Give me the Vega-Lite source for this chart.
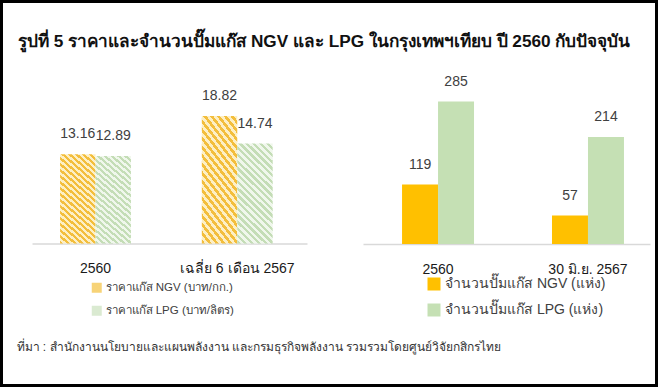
{
  "$schema": "https://vega.github.io/schema/vega-lite/v6.json",
  "width": 658,
  "height": 387,
  "autosize": "none",
  "padding": 0,
  "background": "white",
  "title": {
    "text": "รูปที่ 5 ราคาและจำนวนปั๊มแก๊ส NGV และ LPG ในกรุงเทพฯเทียบ ปี 2560 กับปัจจุบัน",
    "anchor": "start",
    "frame": "group",
    "offset": -50,
    "dx": 18,
    "fontSize": 17.2,
    "fontWeight": "bold",
    "color": "#111111"
  },
  "config": {
    "view": {"stroke": "#000000", "strokeWidth": 6},
    "font": "Liberation Sans",
    "axis": {"grid": false, "ticks": false}
  },
  "datasets": {
    "price": [
      {"period": "2560", "series": "ราคาแก๊ส NGV (บาท/กก.)", "value": 13.16},
      {"period": "2560", "series": "ราคาแก๊ส LPG (บาท/ลิตร)", "value": 12.89},
      {"period": "เฉลี่ย 6 เดือน 2567", "series": "ราคาแก๊ส NGV (บาท/กก.)", "value": 18.82},
      {"period": "เฉลี่ย 6 เดือน 2567", "series": "ราคาแก๊ส LPG (บาท/ลิตร)", "value": 14.74}
    ],
    "pumps": [
      {"period": "2560", "series": "จำนวนปั๊มแก๊ส NGV (แห่ง)", "value": 119},
      {"period": "2560", "series": "จำนวนปั๊มแก๊ส LPG (แห่ง)", "value": 285},
      {"period": "30 มิ.ย. 2567", "series": "จำนวนปั๊มแก๊ส NGV (แห่ง)", "value": 57},
      {"period": "30 มิ.ย. 2567", "series": "จำนวนปั๊มแก๊ส LPG (แห่ง)", "value": 214}
    ]
  },
  "layer": [
    {
      "data": {"name": "price"},
      "encoding": {
        "x": {
          "field": "period", "type": "nominal", "sort": null,
          "scale": {"range": [32, 307], "paddingInner": 0.5, "paddingOuter": 0.22, "align": 0.45},
          "axis": {
            "orient": "bottom", "offset": -143.5, "labelAngle": 0, "labelFontSize": 14,
            "labelColor": "#1a1a1a", "labelPadding": 18, "domainColor": "#d9d9d9", "domainWidth": 1.5,
            "ticks": false,
            "title": "ที่มา : สำนักงานนโยบายและแผนพลังงาน และกรมธุรกิจพลังงาน รวมรวมโดยศูนย์วิจัยกสิกรไทย",
            "titleX": 16, "titleY": 103, "titleAlign": "left", "titleBaseline": "middle",
            "titleFontSize": 12, "titleFontWeight": "normal", "titleColor": "#333333"
          }
        },
        "xOffset": {"field": "series", "type": "nominal", "sort": null},
        "y": {
          "field": "value", "type": "quantitative",
          "scale": {"domain": [0, 20], "range": [243.5, 107.9], "nice": false},
          "axis": null
        }
      },
      "layer": [
        {
          "mark": {"type": "bar", "opacity": 0},
          "encoding": {
            "color": {
              "field": "series", "type": "nominal", "sort": null,
              "scale": {
                "domain": ["ราคาแก๊ส NGV (บาท/กก.)", "ราคาแก๊ส LPG (บาท/ลิตร)"],
                "range": ["#F7D377", "#DAEAD1"]
              },
              "legend": {
                "orient": "none", "legendX": 91, "legendY": 282, "title": null, "direction": "vertical",
                "symbolType": "square", "symbolSize": 100, "symbolStrokeWidth": 0, "symbolOpacity": 1,
                "labelFontSize": 11.5, "labelColor": "#404040", "rowPadding": 10, "labelOffset": 3, "padding": 0,
                "labelLimit": 300
              }
            }
          }
        },
        {
          "mark": {"type": "bar"},
          "encoding": {
            "fill": {
              "condition": {
                "test": "indexof(datum.series, 'NGV') >= 0",
                "value": {"gradient": "linear", "x1": 0, "y1": 1, "x2": 0.42, "y2": -0.2, "stops": [
                    {"offset": 0, "color": "#F3BE3C"}, {"offset": 0.025, "color": "#F3BE3C"}, {"offset": 0.025, "color": "#FDEFC4"}, {"offset": 0.05, "color": "#FDEFC4"},
                    {"offset": 0.05, "color": "#F3BE3C"}, {"offset": 0.075, "color": "#F3BE3C"}, {"offset": 0.075, "color": "#FDEFC4"}, {"offset": 0.1, "color": "#FDEFC4"},
                    {"offset": 0.1, "color": "#F3BE3C"}, {"offset": 0.125, "color": "#F3BE3C"}, {"offset": 0.125, "color": "#FDEFC4"}, {"offset": 0.15, "color": "#FDEFC4"},
                    {"offset": 0.15, "color": "#F3BE3C"}, {"offset": 0.175, "color": "#F3BE3C"}, {"offset": 0.175, "color": "#FDEFC4"}, {"offset": 0.2, "color": "#FDEFC4"},
                    {"offset": 0.2, "color": "#F3BE3C"}, {"offset": 0.225, "color": "#F3BE3C"}, {"offset": 0.225, "color": "#FDEFC4"}, {"offset": 0.25, "color": "#FDEFC4"},
                    {"offset": 0.25, "color": "#F3BE3C"}, {"offset": 0.275, "color": "#F3BE3C"}, {"offset": 0.275, "color": "#FDEFC4"}, {"offset": 0.3, "color": "#FDEFC4"},
                    {"offset": 0.3, "color": "#F3BE3C"}, {"offset": 0.325, "color": "#F3BE3C"}, {"offset": 0.325, "color": "#FDEFC4"}, {"offset": 0.35, "color": "#FDEFC4"},
                    {"offset": 0.35, "color": "#F3BE3C"}, {"offset": 0.375, "color": "#F3BE3C"}, {"offset": 0.375, "color": "#FDEFC4"}, {"offset": 0.4, "color": "#FDEFC4"},
                    {"offset": 0.4, "color": "#F3BE3C"}, {"offset": 0.425, "color": "#F3BE3C"}, {"offset": 0.425, "color": "#FDEFC4"}, {"offset": 0.45, "color": "#FDEFC4"},
                    {"offset": 0.45, "color": "#F3BE3C"}, {"offset": 0.475, "color": "#F3BE3C"}, {"offset": 0.475, "color": "#FDEFC4"}, {"offset": 0.5, "color": "#FDEFC4"},
                    {"offset": 0.5, "color": "#F3BE3C"}, {"offset": 0.525, "color": "#F3BE3C"}, {"offset": 0.525, "color": "#FDEFC4"}, {"offset": 0.55, "color": "#FDEFC4"},
                    {"offset": 0.55, "color": "#F3BE3C"}, {"offset": 0.575, "color": "#F3BE3C"}, {"offset": 0.575, "color": "#FDEFC4"}, {"offset": 0.6, "color": "#FDEFC4"},
                    {"offset": 0.6, "color": "#F3BE3C"}, {"offset": 0.625, "color": "#F3BE3C"}, {"offset": 0.625, "color": "#FDEFC4"}, {"offset": 0.65, "color": "#FDEFC4"},
                    {"offset": 0.65, "color": "#F3BE3C"}, {"offset": 0.675, "color": "#F3BE3C"}, {"offset": 0.675, "color": "#FDEFC4"}, {"offset": 0.7, "color": "#FDEFC4"},
                    {"offset": 0.7, "color": "#F3BE3C"}, {"offset": 0.725, "color": "#F3BE3C"}, {"offset": 0.725, "color": "#FDEFC4"}, {"offset": 0.75, "color": "#FDEFC4"},
                    {"offset": 0.75, "color": "#F3BE3C"}, {"offset": 0.775, "color": "#F3BE3C"}, {"offset": 0.775, "color": "#FDEFC4"}, {"offset": 0.8, "color": "#FDEFC4"},
                    {"offset": 0.8, "color": "#F3BE3C"}, {"offset": 0.825, "color": "#F3BE3C"}, {"offset": 0.825, "color": "#FDEFC4"}, {"offset": 0.85, "color": "#FDEFC4"},
                    {"offset": 0.85, "color": "#F3BE3C"}, {"offset": 0.875, "color": "#F3BE3C"}, {"offset": 0.875, "color": "#FDEFC4"}, {"offset": 0.9, "color": "#FDEFC4"},
                    {"offset": 0.9, "color": "#F3BE3C"}, {"offset": 0.925, "color": "#F3BE3C"}, {"offset": 0.925, "color": "#FDEFC4"}, {"offset": 0.95, "color": "#FDEFC4"},
                    {"offset": 0.95, "color": "#F3BE3C"}, {"offset": 0.975, "color": "#F3BE3C"}, {"offset": 0.975, "color": "#FDEFC4"}, {"offset": 1, "color": "#FDEFC4"}
                ]}
              },
              "value": {"gradient": "linear", "x1": 0, "y1": 1, "x2": 0.42, "y2": -0.2, "stops": [
                    {"offset": 0, "color": "#C4DDB6"}, {"offset": 0.025, "color": "#C4DDB6"}, {"offset": 0.025, "color": "#F0F7EC"}, {"offset": 0.05, "color": "#F0F7EC"},
                    {"offset": 0.05, "color": "#C4DDB6"}, {"offset": 0.075, "color": "#C4DDB6"}, {"offset": 0.075, "color": "#F0F7EC"}, {"offset": 0.1, "color": "#F0F7EC"},
                    {"offset": 0.1, "color": "#C4DDB6"}, {"offset": 0.125, "color": "#C4DDB6"}, {"offset": 0.125, "color": "#F0F7EC"}, {"offset": 0.15, "color": "#F0F7EC"},
                    {"offset": 0.15, "color": "#C4DDB6"}, {"offset": 0.175, "color": "#C4DDB6"}, {"offset": 0.175, "color": "#F0F7EC"}, {"offset": 0.2, "color": "#F0F7EC"},
                    {"offset": 0.2, "color": "#C4DDB6"}, {"offset": 0.225, "color": "#C4DDB6"}, {"offset": 0.225, "color": "#F0F7EC"}, {"offset": 0.25, "color": "#F0F7EC"},
                    {"offset": 0.25, "color": "#C4DDB6"}, {"offset": 0.275, "color": "#C4DDB6"}, {"offset": 0.275, "color": "#F0F7EC"}, {"offset": 0.3, "color": "#F0F7EC"},
                    {"offset": 0.3, "color": "#C4DDB6"}, {"offset": 0.325, "color": "#C4DDB6"}, {"offset": 0.325, "color": "#F0F7EC"}, {"offset": 0.35, "color": "#F0F7EC"},
                    {"offset": 0.35, "color": "#C4DDB6"}, {"offset": 0.375, "color": "#C4DDB6"}, {"offset": 0.375, "color": "#F0F7EC"}, {"offset": 0.4, "color": "#F0F7EC"},
                    {"offset": 0.4, "color": "#C4DDB6"}, {"offset": 0.425, "color": "#C4DDB6"}, {"offset": 0.425, "color": "#F0F7EC"}, {"offset": 0.45, "color": "#F0F7EC"},
                    {"offset": 0.45, "color": "#C4DDB6"}, {"offset": 0.475, "color": "#C4DDB6"}, {"offset": 0.475, "color": "#F0F7EC"}, {"offset": 0.5, "color": "#F0F7EC"},
                    {"offset": 0.5, "color": "#C4DDB6"}, {"offset": 0.525, "color": "#C4DDB6"}, {"offset": 0.525, "color": "#F0F7EC"}, {"offset": 0.55, "color": "#F0F7EC"},
                    {"offset": 0.55, "color": "#C4DDB6"}, {"offset": 0.575, "color": "#C4DDB6"}, {"offset": 0.575, "color": "#F0F7EC"}, {"offset": 0.6, "color": "#F0F7EC"},
                    {"offset": 0.6, "color": "#C4DDB6"}, {"offset": 0.625, "color": "#C4DDB6"}, {"offset": 0.625, "color": "#F0F7EC"}, {"offset": 0.65, "color": "#F0F7EC"},
                    {"offset": 0.65, "color": "#C4DDB6"}, {"offset": 0.675, "color": "#C4DDB6"}, {"offset": 0.675, "color": "#F0F7EC"}, {"offset": 0.7, "color": "#F0F7EC"},
                    {"offset": 0.7, "color": "#C4DDB6"}, {"offset": 0.725, "color": "#C4DDB6"}, {"offset": 0.725, "color": "#F0F7EC"}, {"offset": 0.75, "color": "#F0F7EC"},
                    {"offset": 0.75, "color": "#C4DDB6"}, {"offset": 0.775, "color": "#C4DDB6"}, {"offset": 0.775, "color": "#F0F7EC"}, {"offset": 0.8, "color": "#F0F7EC"},
                    {"offset": 0.8, "color": "#C4DDB6"}, {"offset": 0.825, "color": "#C4DDB6"}, {"offset": 0.825, "color": "#F0F7EC"}, {"offset": 0.85, "color": "#F0F7EC"},
                    {"offset": 0.85, "color": "#C4DDB6"}, {"offset": 0.875, "color": "#C4DDB6"}, {"offset": 0.875, "color": "#F0F7EC"}, {"offset": 0.9, "color": "#F0F7EC"},
                    {"offset": 0.9, "color": "#C4DDB6"}, {"offset": 0.925, "color": "#C4DDB6"}, {"offset": 0.925, "color": "#F0F7EC"}, {"offset": 0.95, "color": "#F0F7EC"},
                    {"offset": 0.95, "color": "#C4DDB6"}, {"offset": 0.975, "color": "#C4DDB6"}, {"offset": 0.975, "color": "#F0F7EC"}, {"offset": 1, "color": "#F0F7EC"}
              ]}
            }
          }
        },
        {
          "mark": {"type": "text", "dy": -20, "fontSize": 14, "color": "#404040"},
          "encoding": {"text": {"field": "value", "type": "quantitative", "format": ".2f"}}
        }
      ]
    },
    {
      "data": {"name": "pumps"},
      "encoding": {
        "x": {
          "field": "period", "type": "nominal", "sort": null,
          "scale": {"range": [363, 650], "paddingInner": 0.52, "paddingOuter": 0.217, "align": 0.6},
          "axis": {
            "orient": "bottom", "offset": -143, "labelAngle": 0, "labelFontSize": 14,
            "labelColor": "#1a1a1a", "labelPadding": 18, "domainColor": "#d9d9d9", "domainWidth": 1.5,
            "ticks": false, "title": null
          }
        },
        "xOffset": {"field": "series", "type": "nominal", "sort": null},
        "y": {
          "field": "value", "type": "quantitative",
          "scale": {"domain": [0, 300], "range": [244, 94], "nice": false},
          "axis": null
        }
      },
      "layer": [
        {
          "mark": {"type": "bar"},
          "encoding": {
            "color": {
              "field": "series", "type": "nominal", "sort": null,
              "scale": {
                "domain": ["จำนวนปั๊มแก๊ส NGV (แห่ง)", "จำนวนปั๊มแก๊ส LPG (แห่ง)"],
                "range": ["#FFC000", "#C5E0B4"]
              },
              "legend": {
                "orient": "none", "legendX": 427, "legendY": 277, "title": null, "direction": "vertical",
                "symbolType": "square", "symbolSize": 169, "symbolStrokeWidth": 0,
                "labelFontSize": 14, "labelColor": "#404040", "rowPadding": 12, "labelOffset": 4, "padding": 0,
                "labelLimit": 300
              }
            }
          }
        },
        {
          "mark": {"type": "text", "dy": -20, "fontSize": 14, "color": "#404040"},
          "encoding": {"text": {"field": "value", "type": "quantitative", "format": "d"}}
        }
      ]
    }
  ],
  "resolve": {
    "scale": {"x": "independent", "y": "independent", "xOffset": "independent", "color": "independent"},
    "axis": {"x": "independent", "y": "independent"},
    "legend": {"color": "independent"}
  }
}
